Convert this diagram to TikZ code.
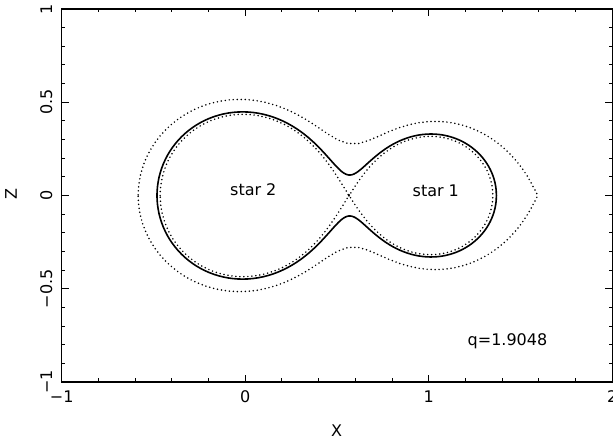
\documentclass[tikz,border=0pt]{standalone}
\usepackage{fontspec}
\setmainfont{DejaVu Sans}
\newcount\bisecti
% Roche potential in the orbital plane, separation 1, total mass 1
\def\MA{0.6557}% star 2 at x=0
\def\MB{0.3443}% star 1 at x=1
\def\XC{0.3443}% centre of mass
\newcommand\rpot[2]{\pgfmathparse{-\MA/sqrt((#1)*(#1)+(#2)*(#2))-\MB/sqrt(((#1)-1)*((#1)-1)+(#2)*(#2))-0.5*(((#1)-\XC)*((#1)-\XC)+(#2)*(#2))}}
\newcommand\solvez[2]{%
  \def\zlo{0}\def\zhi{0.6}\bisecti=0
  \loop
    \pgfmathsetmacro\zmid{0.5*(\zlo+\zhi)}%
    \rpot{#1}{\zmid}%
    \ifdim\pgfmathresult pt>#2pt\relax \let\zhi\zmid \else \let\zlo\zmid \fi
    \advance\bisecti by 1
  \ifnum\bisecti<15 \repeat
  \pgfmathsetmacro\zsol{0.5*(\zlo+\zhi)}%
}
% add points of the contour level #3 for x from #1 to #2 (cosine spacing)
\newcommand\addpts[4]{%
  \foreach \ang in {#4}{%
    \pgfmathsetmacro\xx{#1+((#2)-(#1))*(1-cos(\ang))/2}%
    \solvez{\xx}{#3}%
    \xdef\ptsU{\ptsU(\xx,\zsol)}%
    \xdef\ptsL{(\xx,-\zsol)\ptsL}%
  }%
}
\newcommand\drawpts[1]{%
  \edef\lobepath{\noexpand\draw[#1] plot coordinates {\ptsU\ptsL} -- cycle;}%
  \lobepath
}
\newcommand\lobe[4]{%
  \gdef\ptsU{}\gdef\ptsL{}%
  \addpts{#1}{#2}{#3}{0,3,...,180}%
  \drawpts{#4}%
}
\newcommand\necklobe[5]{%
  \gdef\ptsU{}\gdef\ptsL{}%
  \addpts{#1}{#2}{#4}{0,3,...,180}%
  \addpts{#2}{#3}{#4}{3,6,...,180}%
  \drawpts{#5}%
}
\tikzset{
  framel/.style={line width=1.3pt},
  tickl/.style={line width=0.9pt},
  curvesolid/.style={line width=1.6pt, line join=round},
  curvedot/.style={line width=1.7pt, line cap=round, dash pattern=on 0pt off 4pt},
  lbl/.style={font=\fontsize{16}{19}\selectfont, inner sep=0pt}
}
\begin{document}
\begin{tikzpicture}[x=1pt,y=1pt]
\useasboundingbox (0,0) rectangle (613,441);
\begin{scope}[shift={(245.2pt,245.5pt)},x=183.5pt,y=186.5pt]
  \rpot{0.56583}{0}\global\let\Ccrit\pgfmathresult
  \rpot{1.59059}{0}\global\let\Couter\pgfmathresult
  \gdef\Csolid{-1.937}
  \lobe{-0.5833}{1.59055}{\Couter}{curvedot}
  \lobe{-0.4636}{0.56583}{\Ccrit}{curvedot}
  \lobe{0.56583}{1.3496}{\Ccrit}{curvedot}
  \necklobe{-0.4808}{0.566}{1.3696}{\Csolid}{curvesolid}
  % frame
  \draw[framel] (-1,-1) rectangle (2,1);
  % ticks
  \foreach \i in {0,...,15}{\draw[tickl] ({-1+0.2*\i},-1) -- ++(0,3.5pt) ({-1+0.2*\i},1) -- ++(0,-3.5pt);}
  \foreach \x in {-1,0,1,2}{\draw[tickl] (\x,-1) -- ++(0,7pt) (\x,1) -- ++(0,-7pt);}
  \foreach \i in {0,...,20}{\draw[tickl] (-1,{-1+0.1*\i}) -- ++(3.5pt,0) (2,{-1+0.1*\i}) -- ++(-3.5pt,0);}
  \foreach \y in {-1,-0.5,0,0.5,1}{\draw[tickl] (-1,\y) -- ++(7pt,0) (2,\y) -- ++(-7pt,0);}
  % tick labels
  \foreach \x/\t [count=\k] in {-1/−1,0/0,1/1,2/2}{\path (\x,-1) ++(0,-20.3pt) node[lbl,anchor=base] (xl\k) {\t};}
  \foreach \y/\t [count=\k] in {-1/−1,-0.5/−0.5,0/0,0.5/0.5,1/1}{\path (-1,\y) ++(-9.7pt,0) node[lbl,rotate=90,anchor=base] (yl\k) {\t};}
\end{scope}
\node[lbl,anchor=base] (xt) at (336.7,4.3) {X};
\node[lbl,rotate=90,anchor=base] (zt) at (17,247) {Z};
\node[lbl,anchor=base] (s2) at (253.3,245.3) {star 2};
\node[lbl,anchor=base] (s1) at (435.8,244.5) {star 1};
\node[lbl,anchor=base] (qv) at (507.5,95) {q=1.9048};
\end{tikzpicture}
\end{document}
